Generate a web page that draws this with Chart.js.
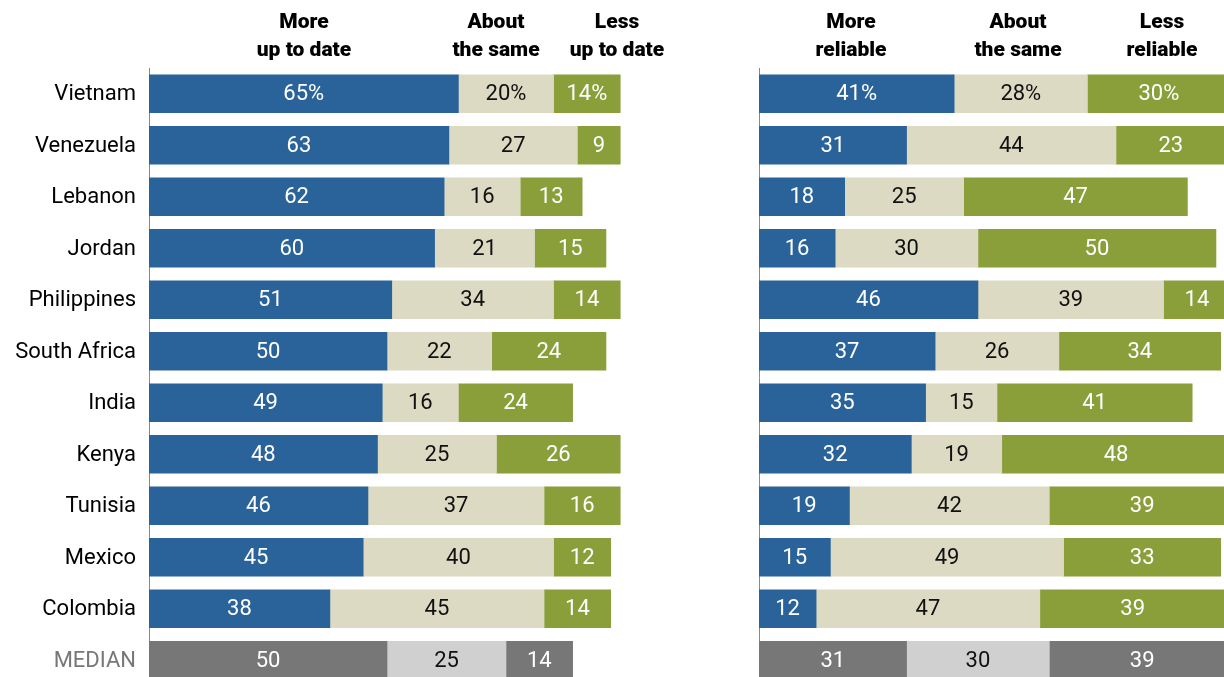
<!DOCTYPE html>
<html>
<head>
<meta charset="utf-8">
<script src="https://cdn.jsdelivr.net/npm/chart.js@4.4.1/dist/chart.umd.min.js"></script>
<style>
  html, body { margin: 0; padding: 0; background: #fff; width: 1224px; height: 677px; overflow: hidden; }
  #wrap { position: relative; width: 1224px; height: 677px; overflow: hidden; }
  canvas { position: absolute; top: 0; }
  .head { position: absolute; top: 7px; font-family: 'Roboto', sans-serif; font-weight: 900; font-size: 21px; line-height: 28px; text-align: center; color: #000; transform: translateX(-50%); white-space: nowrap; }
</style>
</head>
<body>
<div id="wrap">
  <canvas id="leftChart" width="640" height="700" style="left:0"></canvas>
  <canvas id="rightChart" width="520" height="700" style="left:740px"></canvas>
</div>
<script>
const countries = ['Vietnam', 'Venezuela', 'Lebanon', 'Jordan', 'Philippines', 'South Africa',
    'India', 'Kenya', 'Tunisia', 'Mexico', 'Colombia', 'MEDIAN'];

// Up to date
const moreUpToDate = [65, 63, 62, 60, 51, 50, 49, 48, 46, 45, 38, 50];
const sameUpToDate = [20, 27, 16, 21, 34, 22, 16, 25, 37, 40, 45, 25];
const lessUpToDate = [14, 9, 13, 15, 14, 24, 24, 26, 16, 12, 14, 14];

// Reliable
const moreReliable = [41, 31, 18, 16, 46, 37, 35, 32, 19, 15, 12, 31];
const sameReliable = [28, 44, 25, 30, 39, 26, 15, 19, 42, 49, 47, 30];
const lessReliable = [30, 23, 47, 50, 14, 34, 41, 48, 39, 33, 39, 39];

const leftHeaders = [['More', 'up to date'], ['About', 'the same'], ['Less', 'up to date']];
const rightHeaders = [['More', 'reliable'], ['About', 'the same'], ['Less', 'reliable']];

const BLUE = '#2a6399';
const BEIGE = '#dcdac2';
const GREEN = '#8a9e3a';
const DARK_GRAY = '#777777';
const LIGHT_GRAY = '#d0d0d0';
const MEDIAN_INDEX = countries.length - 1;

const baseColors = [BLUE, BEIGE, GREEN];
const medianColors = [DARK_GRAY, LIGHT_GRAY, DARK_GRAY];
const textColors = ['#ffffff', '#111111', '#ffffff'];

const FONT = "'Roboto', 'Liberation Sans', sans-serif";

// Writes each segment's value in the middle of its bar
const barLabels = {
    id: 'barLabels',
    afterDatasetsDraw(chart) {
        const ctx = chart.ctx;
        ctx.save();
        ctx.font = '22px ' + FONT;
        ctx.textAlign = 'center';
        ctx.textBaseline = 'middle';
        chart.data.datasets.forEach((ds, di) => {
            const meta = chart.getDatasetMeta(di);
            meta.data.forEach((bar, i) => {
                const cx = (bar.x + bar.base) / 2;
                ctx.fillStyle = (i === MEDIAN_INDEX && di !== 1) ? '#ffffff' : textColors[di];
                const text = ds.data[i] + (i === 0 ? '%' : '');
                ctx.fillText(text, cx, bar.y + 1);
            });
        });
        ctx.restore();
    }
};

// Country names to the left of the axis, placed on the category scale
const countryLabels = {
    id: 'countryLabels',
    afterDraw(chart, args, opts) {
        if (!opts.show) return;
        const ctx = chart.ctx;
        const y = chart.scales.y;
        ctx.save();
        ctx.font = '22px ' + FONT;
        ctx.textAlign = 'right';
        ctx.textBaseline = 'middle';
        countries.forEach((name, i) => {
            ctx.fillStyle = i === MEDIAN_INDEX ? '#777777' : '#000000';
            ctx.fillText(name, y.right - 13, y.getPixelForValue(i) + 1);
        });
        ctx.restore();
    }
};

function makeDatasets(series) {
    return series.map((values, di) => ({
        data: values,
        backgroundColor: values.map((v, i) => i === MEDIAN_INDEX ? medianColors[di] : baseColors[di]),
        borderWidth: 0,
        barThickness: 38
    }));
}

function makeChart(id, series, showLabels, axisWidth, padRight) {
    const ctx = document.getElementById(id).getContext('2d');
    return new Chart(ctx, {
        type: 'bar',
        data: {
            labels: countries,
            datasets: makeDatasets(series)
        },
        options: {
            indexAxis: 'y',
            responsive: false,
            animation: false,
            devicePixelRatio: 1,
            layout: { padding: { top: 68, bottom: 14, left: 0, right: padRight } },
            scales: {
                x: {
                    stacked: true,
                    min: 0,
                    max: 100,
                    display: false
                },
                y: {
                    stacked: true,
                    grid: { display: false, drawTicks: false },
                    border: { display: true, color: '#888888', width: 1 },
                    ticks: { display: false },
                    afterFit: (scale) => { scale.width = axisWidth; }
                }
            },
            plugins: {
                legend: { display: false },
                tooltip: { enabled: false },
                countryLabels: { show: showLabels }
            }
        },
        plugins: [barLabels, countryLabels]
    });
}

makeChart('leftChart', [moreUpToDate, sameUpToDate, lessUpToDate], true, 149, 15);
makeChart('rightChart', [moreReliable, sameReliable, lessReliable], false, 19, 25);

// Column headings
const wrap = document.getElementById('wrap');
function addHeaders(headers, xs) {
    headers.forEach((lines, i) => {
        const d = document.createElement('div');
        d.className = 'head';
        d.style.left = xs[i] + 'px';
        d.innerHTML = lines.join('<br>');
        wrap.appendChild(d);
    });
}
addHeaders(leftHeaders, [304, 496, 617]);
addHeaders(rightHeaders, [851, 1018, 1162]);
</script>
</body>
</html>
